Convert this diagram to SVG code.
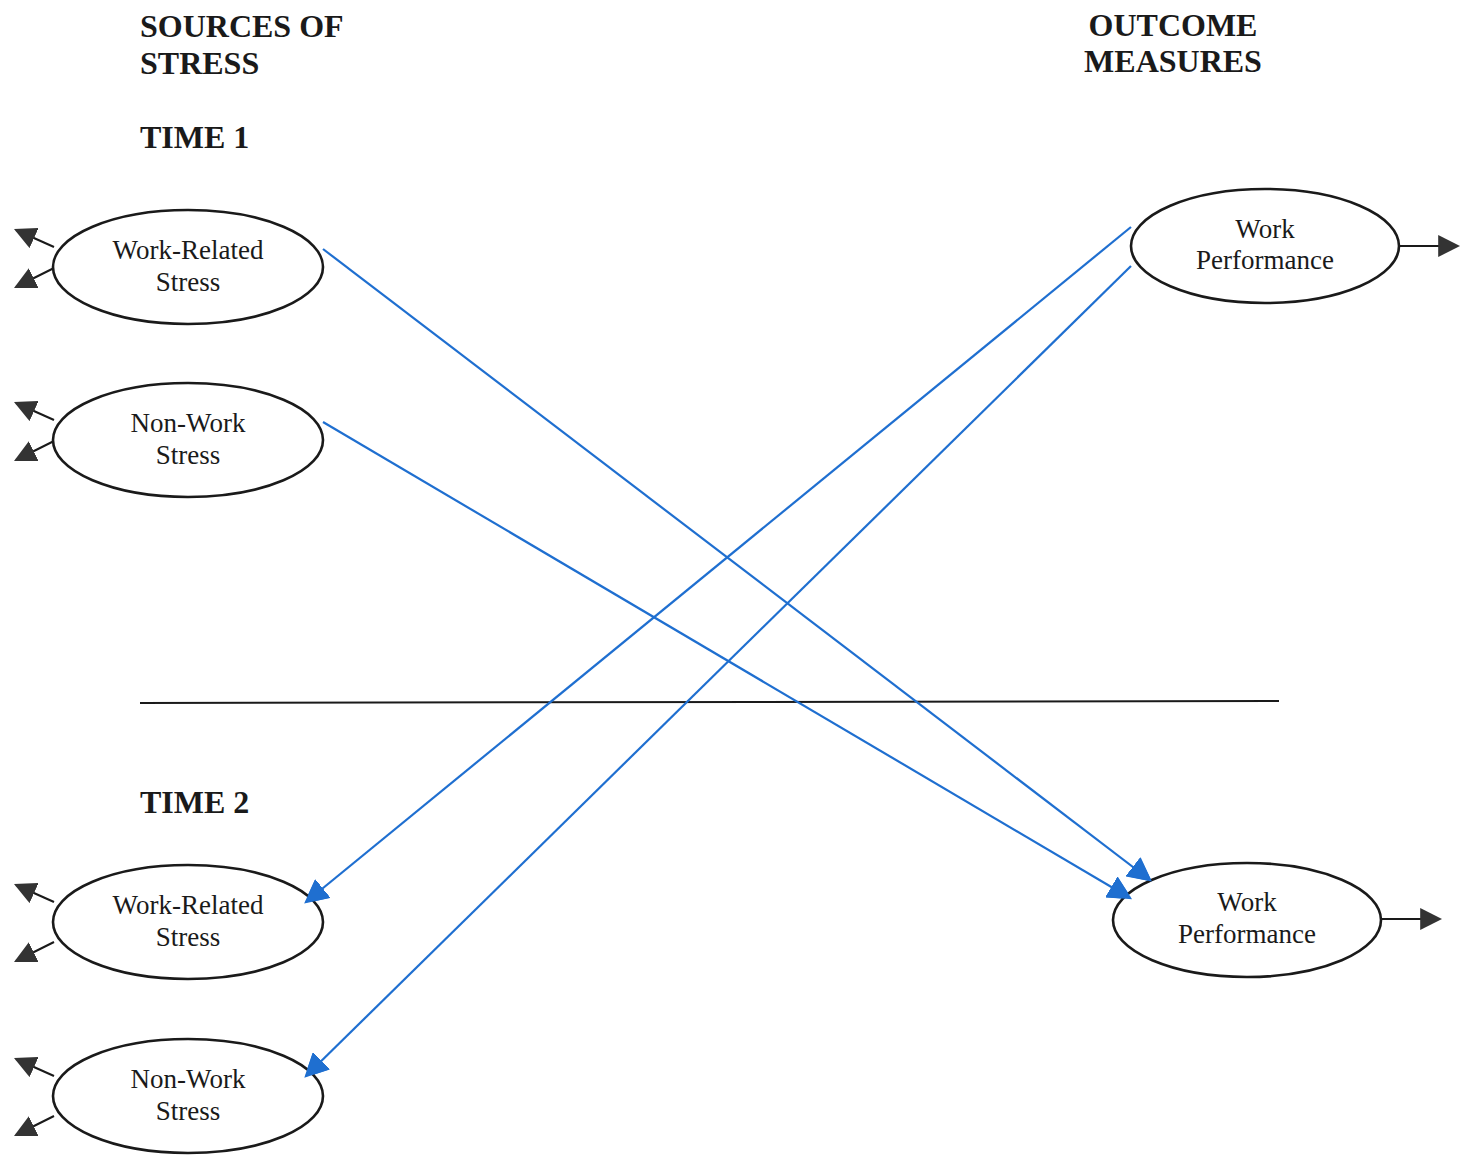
<svg xmlns="http://www.w3.org/2000/svg" width="1461" height="1159" viewBox="0 0 1461 1159">
  <style>
    .hdr { font-family: "Liberation Serif", "Times New Roman", serif; font-weight: bold; font-size: 32px; fill: #1a1a1a; }
    .lbl { font-family: "Liberation Serif", "Times New Roman", serif; font-size: 27px; fill: #1a1a1a; text-anchor: middle; }
    .node ellipse { fill: #ffffff; stroke: #1a1a1a; stroke-width: 2.6; }
    .path { stroke: #1f6fd0; stroke-width: 2.2; fill: none; marker-end: url(#blueHead); }
    .out { stroke: #1a1a1a; stroke-width: 2; fill: none; marker-end: url(#darkHead); }
  </style>
  <defs>
    <marker id="darkHead" viewBox="0 0 10 10" refX="9" refY="5" markerWidth="22" markerHeight="22" markerUnits="userSpaceOnUse" orient="auto">
      <path d="M0,0 L10,5 L0,10 z" fill="#333333"/>
    </marker>
    <marker id="blueHead" viewBox="0 0 10 10" refX="9" refY="5" markerWidth="24" markerHeight="24" markerUnits="userSpaceOnUse" orient="auto">
      <path d="M0,0 L10,5 L0,10 z" fill="#1f6fd0"/>
    </marker>
  </defs>

  <!-- headings -->
  <text class="hdr" x="140" y="37">SOURCES OF</text>
  <text class="hdr" x="140" y="74">STRESS</text>
  <text class="hdr" x="140" y="148">TIME 1</text>
  <text class="hdr" x="140" y="813">TIME 2</text>
  <text class="hdr" x="1173" y="36" text-anchor="middle">OUTCOME</text>
  <text class="hdr" x="1173" y="72" text-anchor="middle">MEASURES</text>

  <!-- time divider -->
  <line x1="140" y1="703" x2="1279" y2="701" stroke="#1a1a1a" stroke-width="2"/>

  <!-- connectors -->
  <g id="connectors">
    <line class="path" x1="323" y1="249" x2="1150" y2="880"/>
    <line class="path" x1="323" y1="422" x2="1130" y2="898"/>
    <line class="path" x1="1131" y1="227" x2="306" y2="902"/>
    <line class="path" x1="1131" y1="266" x2="306" y2="1076"/>

    <!-- residual terms on the stress factors -->
    <line class="out" x1="54" y1="247" x2="16" y2="230"/>
    <line class="out" x1="54" y1="268" x2="16" y2="287"/>
    <line class="out" x1="54" y1="420" x2="16" y2="403"/>
    <line class="out" x1="54" y1="441" x2="16" y2="460"/>
    <line class="out" x1="54" y1="902" x2="16" y2="885"/>
    <line class="out" x1="54" y1="942" x2="16" y2="961"/>
    <line class="out" x1="54" y1="1076" x2="16" y2="1059"/>
    <line class="out" x1="54" y1="1116" x2="16" y2="1135"/>

    <!-- outcome disturbances -->
    <line class="out" x1="1399" y1="246" x2="1458" y2="246"/>
    <line class="out" x1="1382" y1="919" x2="1440" y2="919"/>
  </g>

  <!-- time 1 factors -->
  <g id="wrs1" class="node">
    <ellipse cx="188" cy="267" rx="135" ry="57"/>
    <text class="lbl" x="188" y="259">Work-Related</text>
    <text class="lbl" x="188" y="291">Stress</text>
  </g>
  <g id="nws1" class="node">
    <ellipse cx="188" cy="440" rx="135" ry="57"/>
    <text class="lbl" x="188" y="432">Non-Work</text>
    <text class="lbl" x="188" y="464">Stress</text>
  </g>
  <g id="wp1" class="node">
    <ellipse cx="1265" cy="246" rx="134" ry="57"/>
    <text class="lbl" x="1265" y="238">Work</text>
    <text class="lbl" x="1265" y="269">Performance</text>
  </g>

  <!-- time 2 factors -->
  <g id="wrs2" class="node">
    <ellipse cx="188" cy="922" rx="135" ry="57"/>
    <text class="lbl" x="188" y="914">Work-Related</text>
    <text class="lbl" x="188" y="946">Stress</text>
  </g>
  <g id="nws2" class="node">
    <ellipse cx="188" cy="1096" rx="135" ry="57"/>
    <text class="lbl" x="188" y="1088">Non-Work</text>
    <text class="lbl" x="188" y="1120">Stress</text>
  </g>
  <g id="wp2" class="node">
    <ellipse cx="1247" cy="920" rx="134" ry="57"/>
    <text class="lbl" x="1247" y="911">Work</text>
    <text class="lbl" x="1247" y="943">Performance</text>
  </g>

  <!-- short stubs so the blue heads sit on top of the ellipse outlines -->
  <g id="heads">
    <line class="path" x1="1140" y1="872" x2="1150" y2="880"/>
    <line class="path" x1="1120" y1="892" x2="1130" y2="898"/>
    <line class="path" x1="316" y1="894" x2="306" y2="902"/>
    <line class="path" x1="316" y1="1066" x2="306" y2="1076"/>
  </g>
</svg>
